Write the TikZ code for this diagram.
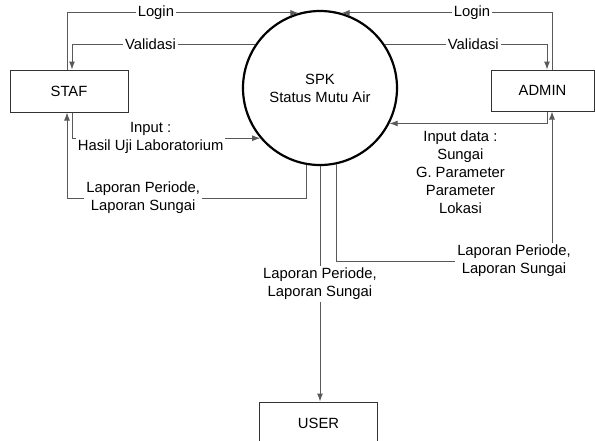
\documentclass[tikz,border=0pt]{standalone}
\usepackage{fontspec}
\setmainfont{Liberation Sans}
\usetikzlibrary{arrows.meta}

\begin{document}
\begin{tikzpicture}[x=0.5pt,y=-0.5pt,
		font=\fontsize{7.4}{9}\selectfont,
		ent/.style={draw=black!80,line width=0.5pt,minimum width=59pt,minimum height=21pt,inner sep=0pt},
		proc/.style={circle,draw,line width=1.1pt,minimum size=77pt,inner sep=0pt,align=center},
		flow/.style={draw=black!65,line width=0.5pt,-{Latex[length=4pt,width=3pt]}},
		lbl/.style={fill=white,inner sep=1pt,align=center,text=black}]
			\useasboundingbox (0,0) rectangle (595,440);
			\node[proc] (spk) at (320,88) {SPK\\Status Mutu Air};
			\node[ent] (staf) at (69,91) {STAF};
			\node[ent,minimum width=51.5pt,minimum height=20.5pt] (admin) at (542.5,90.5) {ADMIN};
			\node[ent] (user) at (318.5,423) {USER};
			\coordinate (lapstaf) at (67,198);
			\coordinate (lapadmin) at (552,261);
			% staf
			\draw[flow] ([xshift=-1pt]staf.north) |- node[lbl,pos=0.692] {Login} (spk.106);
			\draw[flow] (spk.146) -| node[lbl,pos=0.286] {Validasi} ([xshift=1.5pt]staf.north);
			\draw[flow] ([xshift=1.5pt]staf.south) |- node[lbl,pos=0.709] {Input :\\Hasil Uji Laboratorium} (spk.220);
			\draw[flow] (spk.260) |- node[lbl,pos=0.841] {Laporan Periode,\\Laporan Sungai} (lapstaf) -- ([xshift=-1pt]staf.south);
			% admin
			\draw[flow] ([xshift=4.75pt]admin.north) |- node[lbl,pos=0.69] {Login} (spk.74);
			\draw[flow] (spk.34) -| node[lbl,pos=0.273] {Validasi} ([xshift=2.25pt]admin.north);
			\draw[flow] ([xshift=2.25pt]admin.south) |- node[lbl,below,pos=0.775,yshift=-2.5pt] {Input data :\\Sungai\\G. Parameter\\Parameter\\Lokasi} (spk.333);
			\draw[flow] (spk.282) |- node[lbl,pos=0.912] {Laporan Periode,\\Laporan Sungai} (lapadmin) -- ([xshift=4.75pt]admin.south);
			% user
			\draw[flow] (spk.south) -- node[lbl] {Laporan Periode,\\Laporan Sungai} (spk.south |- user.north);
		\end{tikzpicture}
\end{document}
